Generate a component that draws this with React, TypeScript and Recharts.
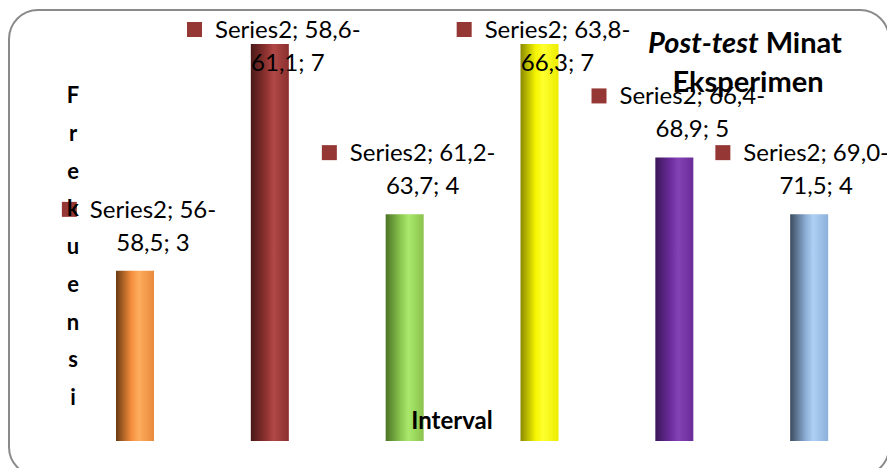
import React from 'react';
import { BarChart, Bar, XAxis, YAxis, LabelList, Cell } from 'recharts';

const categories = ['56-58,5', '58,6-61,1', '61,2-63,7', '63,8-66,3', '66,4-68,9', '69,0-71,5'];
const series1Values: (number | null)[] = [null, null, null, null, null, null];
const series2Values = [3, 7, 4, 7, 5, 4];
const seriesName = 'Series2';
const titleItalic = 'Post-test';
const titleRest = ' Minat';
const titleLine2 = 'Eksperimen';
const yAxisTitle = 'Frekuensi';
const xAxisTitle = 'Interval';

const barColors = [
  { dark: '#6a3b12', base: '#f48d3c', light: '#ffac5e', edge: '#e88a3c' },
  { dark: '#4a1918', base: '#8e3230', light: '#b04846', edge: '#8a302e' },
  { dark: '#4c7326', base: '#8cc850', light: '#a9e86c', edge: '#8ac24c' },
  { dark: '#8a8a00', base: '#f5f500', light: '#ffff30', edge: '#ecec00' },
  { dark: '#3a1658', base: '#6c2c9c', light: '#8442b4', edge: '#6a2c98' },
  { dark: '#3c4c5e', base: '#8aabd4', light: '#aed0f4', edge: '#8cb0dc' },
];

const data = categories.map((c, i) => ({ cat: c, s1: series1Values[i], s2: series2Values[i] }));

const FONT = 'Lato, "Open Sans", sans-serif';

let ctx: CanvasRenderingContext2D | null = null;
function measure(t: string, size: number, weight = 'normal') {
  if (!ctx) ctx = document.createElement('canvas').getContext('2d');
  if (!ctx) return t.length * size * 0.5;
  ctx.font = `${weight} ${size}px Lato`;
  return ctx.measureText(t).width;
}

const renderLabel = (props: any) => {
  const x = Number(props.x);
  const y = Number(props.y);
  const width = Number(props.width);
  let index = props.index;
  if (index === undefined || index === null) index = 0;
  const cat = categories[index];
  const v = series2Values[index];
  const dash = cat.indexOf('-');
  const l1 = `${seriesName}; ${cat.slice(0, dash + 1)}`;
  const l2 = `${cat.slice(dash + 1)}; ${v}`;
  const w1 = measure(l1, 24);
  let cx = x + width / 2 + 18;
  cx = Math.min(cx, 889 - w1 / 2);
  const b1 = Math.max(y - 53, 38);
  const b2 = b1 + 33;
  const sqX = cx - w1 / 2 - 13 - 15;
  return (
    <g>
      <rect x={sqX} y={b1 - 16} width={15} height={15} fill="#953735" />
      <text x={cx} y={b1} textAnchor="middle" fontFamily={FONT} fontSize={24} fill="#000">{l1}</text>
      <text x={cx} y={b2} textAnchor="middle" fontFamily={FONT} fontSize={24} fill="#000">{l2}</text>
    </g>
  );
};

export default function App() {
  const letters = yAxisTitle.split('');
  return (
    <div style={{ position: 'absolute', left: 0, top: 0, width: 887, height: 468, overflow: 'hidden', background: '#fff' }}>
      <div
        style={{
          position: 'absolute',
          left: 8,
          top: 9,
          width: 878,
          height: 464,
          border: '2px solid #8a8a8a',
          borderRadius: 30,
        }}
      />
      <div style={{ position: 'absolute', left: 0, top: 0 }}>
        <BarChart
          width={887}
          height={468}
          data={data}
          margin={{ top: 44, right: 29, bottom: 27, left: 49 }}
          barGap={0}
        >
          <defs>
            {barColors.map((c, i) => (
              <linearGradient key={i} id={`grad${i}`} x1="0" y1="0" x2="1" y2="0">
                <stop offset="0%" stopColor={c.dark} />
                <stop offset="40%" stopColor={c.base} />
                <stop offset="60%" stopColor={c.light} />
                <stop offset="100%" stopColor={c.edge} />
              </linearGradient>
            ))}
          </defs>
          <XAxis
            dataKey="cat"
            tick={false}
            tickLine={false}
            height={0}
            axisLine={{ stroke: '#8c8c8c', strokeWidth: 2 }}
          />
          <YAxis hide domain={[0, 7]} />
          <Bar dataKey="s1" barSize={38} isAnimationActive={false} fill="#4f81bd" />
          <Bar dataKey="s2" barSize={38} isAnimationActive={false}>
            {data.map((d, i) => (
              <Cell key={i} fill={`url(#grad${i})`} />
            ))}
            <LabelList dataKey="s2" content={renderLabel} />
          </Bar>
        </BarChart>
      </div>
      <svg width={887} height={468} style={{ position: 'absolute', left: 0, top: 0 }}>
        <text x={745} y={53} textAnchor="middle" fontFamily={FONT} fontSize={29} fontWeight="bold" fill="#000">
          <tspan fontStyle="italic">{titleItalic}</tspan>
          {titleRest}
        </text>
        <text x={748} y={92} textAnchor="middle" fontFamily={FONT} fontSize={29} fontWeight="bold" fill="#000">
          {titleLine2}
        </text>
        <text fontFamily={FONT} fontSize={22} fontWeight="bold" fill="#000" textAnchor="middle">
          {letters.map((ch, i) => (
            <tspan key={i} x={73} y={103 + i * 37.75}>{ch}</tspan>
          ))}
        </text>
        <text x={452} y={429} textAnchor="middle" fontFamily={FONT} fontSize={24} fontWeight="bold" fill="#000">
          {xAxisTitle}
        </text>
      </svg>
    </div>
  );
}
